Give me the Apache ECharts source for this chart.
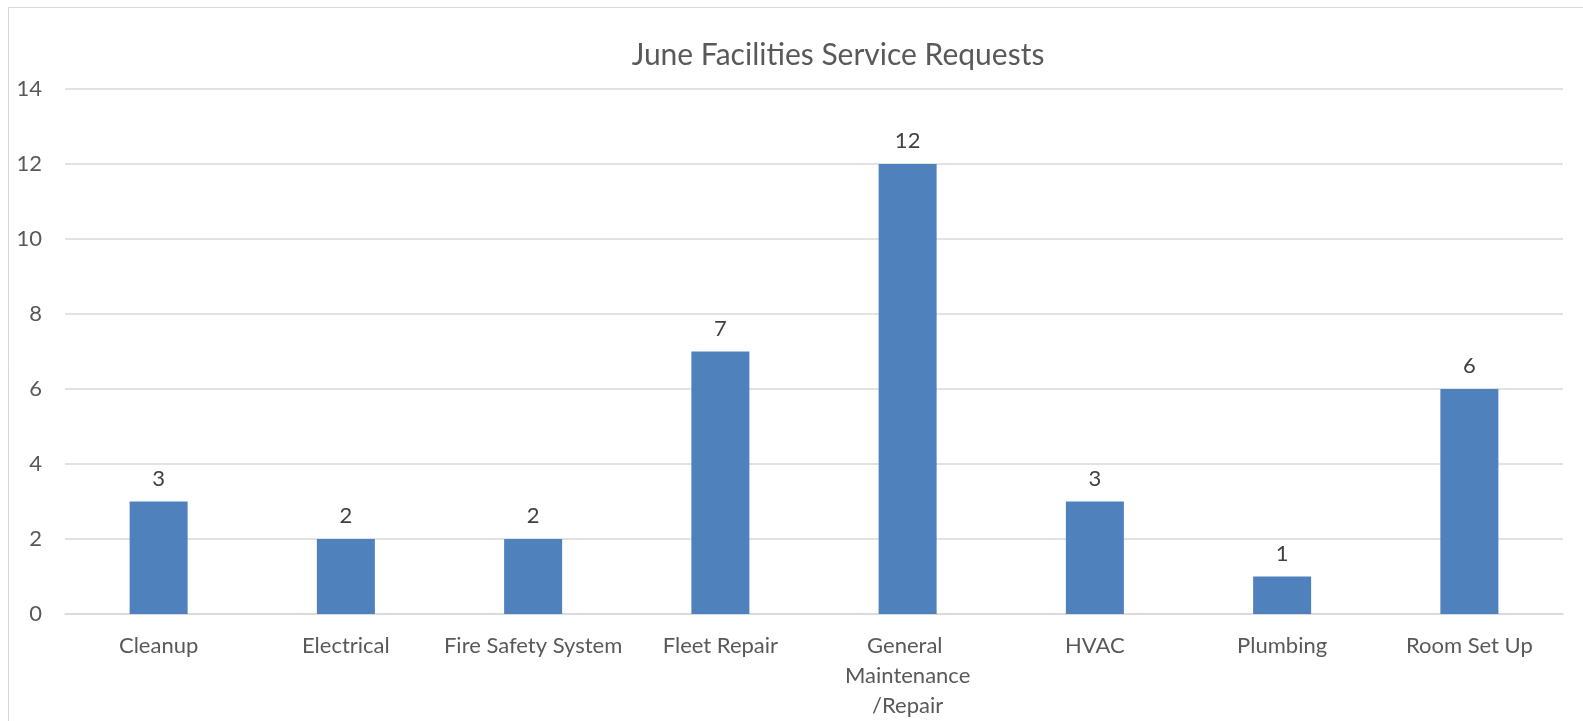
<!DOCTYPE html>
<html>
<head>
<meta charset="utf-8">
<script src="https://cdn.jsdelivr.net/npm/echarts@6/dist/echarts.min.js"></script>
<style>
html,body{margin:0;padding:0;background:#fff;}
#chart{width:1583px;height:721px;}
</style>
</head>
<body>
<div id="chart"></div>
<script>
const titleText = 'June Facilities Service Requests';
const categories = ['Cleanup', 'Electrical', 'Fire Safety System', 'Fleet Repair', 'General Maintenance /Repair', 'HVAC', 'Plumbing', 'Room Set Up'];
const requests = [3, 2, 2, 7, 12, 3, 1, 6];
const yTicks = [0, 2, 4, 6, 8, 10, 12, 14];

const FONT = 'Lato';
const TXT = '#595959';
const GRID = '#d9d9d9';

const chart = echarts.init(document.getElementById('chart'));
chart.setOption({
  animation: false,
  backgroundColor: '#fff',
  textStyle: { fontFamily: FONT },
  title: {
    text: titleText,
    left: 833,
    textAlign: 'center',
    top: 35,
    textStyle: { fontFamily: FONT, fontSize: 30, fontWeight: 'normal', color: TXT }
  },
  graphic: [
    { type: 'line', shape: { x1: 8.5, y1: 7.5, x2: 1583, y2: 7.5 }, style: { stroke: GRID, lineWidth: 1 } },
    { type: 'line', shape: { x1: 8.5, y1: 7.5, x2: 8.5, y2: 721 }, style: { stroke: GRID, lineWidth: 1 } }
  ],
  grid: { left: 65, right: 20, top: 89, bottom: 105, containLabel: false },
  xAxis: {
    type: 'category',
    data: categories,
    axisLine: { show: true, lineStyle: { color: GRID, width: 1.5 } },
    axisTick: { show: false },
    axisLabel: {
      interval: 0,
      color: TXT,
      fontFamily: FONT,
      fontSize: 22,
      lineHeight: 30,
      margin: 17,
      width: 185,
      overflow: 'break',
      formatter: function (v) { return v.replace(' /', '\n/'); }
    }
  },
  yAxis: {
    type: 'value',
    min: yTicks[0],
    max: yTicks[yTicks.length - 1],
    interval: yTicks[1] - yTicks[0],
    axisLine: { show: false },
    axisTick: { show: false },
    splitLine: { lineStyle: { color: GRID, width: 1.5 } },
    axisLabel: { color: TXT, fontFamily: FONT, fontSize: 22, margin: 23 }
  },
  series: [{
    type: 'bar',
    data: requests,
    barWidth: 58,
    itemStyle: { color: '#4f81bd' },
    label: {
      show: true,
      position: 'top',
      distance: 12,
      color: '#404040',
      fontFamily: FONT,
      fontSize: 22
    }
  }]
});
</script>
</body>
</html>
